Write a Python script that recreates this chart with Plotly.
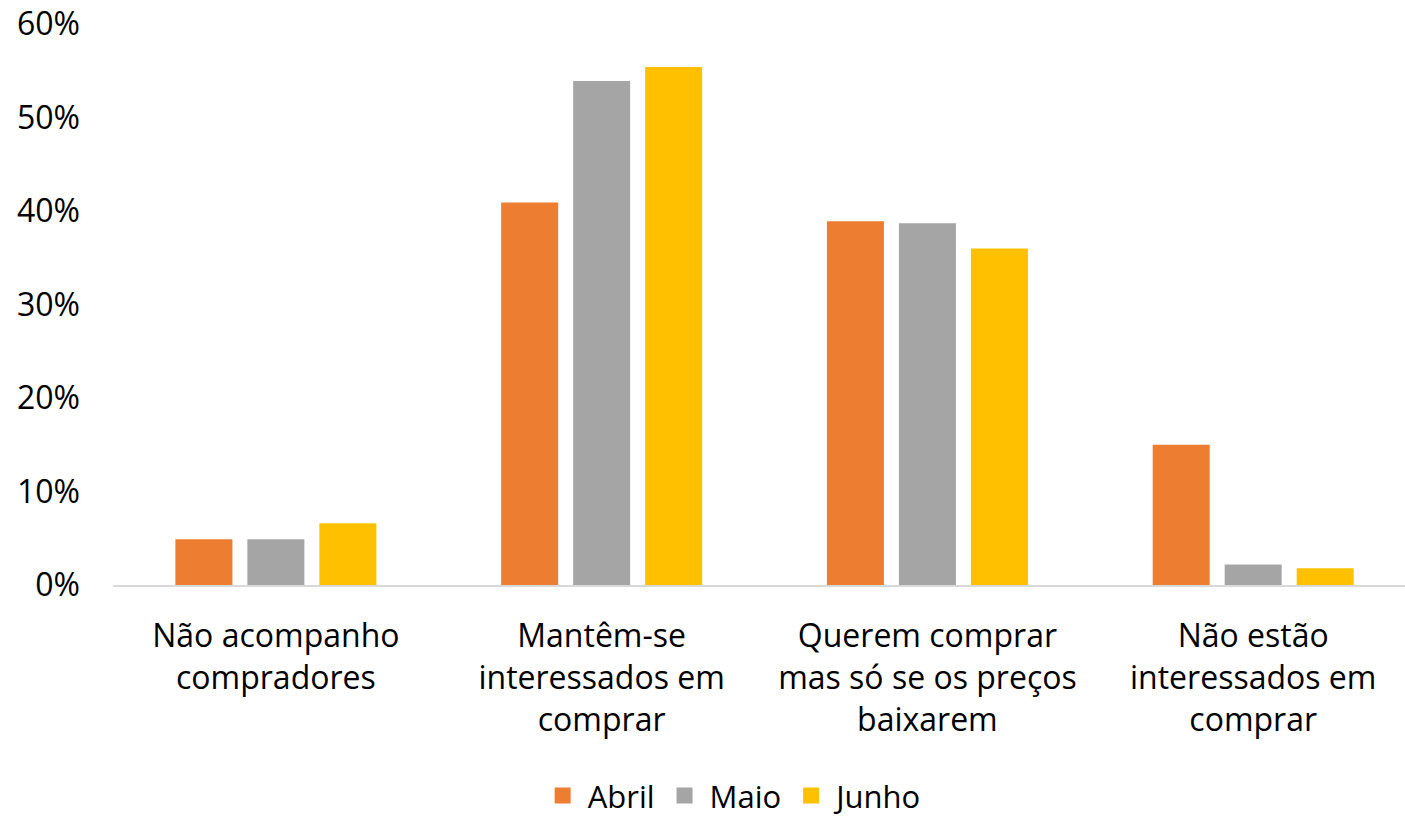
import plotly.graph_objects as go

categories = ["Não acompanho<br>compradores",
              "Mantêm-se<br>interessados em<br>comprar",
              "Querem comprar<br>mas só se os preços<br>baixarem",
              "Não estão<br>interessados em<br>comprar"]
abril = [4.9, 40.9, 38.9, 15.0]
maio = [4.9, 53.9, 38.7, 2.2]
junho = [6.6, 55.4, 36.0, 1.8]
series_names = ["Abril", "Maio", "Junho"]
colors = ["#ED7D31", "#A5A5A5", "#FFC000"]
yticks = [0, 10, 20, 30, 40, 50, 60]

font_family = "Open Sans, Noto Sans, sans-serif"

fig = go.Figure()
for name, vals, c in zip(series_names, [abril, maio, junho], colors):
    fig.add_trace(go.Bar(x=categories, y=vals, name=name, marker_color=c,
                         marker_line_width=0, showlegend=False))
# legend entries with larger square swatches
for name, c in zip(series_names, colors):
    fig.add_trace(go.Scatter(x=[None], y=[None], mode="markers", name=name,
                             marker=dict(symbol="square", size=21, color=c)))

fig.update_layout(
    width=1405, height=818,
    margin=dict(l=113, r=0, t=24, b=233, autoexpand=False),
    paper_bgcolor="white", plot_bgcolor="white",
    barmode="group", bargap=0.337, bargroupgap=0.208,
    font=dict(family=font_family, size=32, color="#000000"),
    legend=dict(orientation="h", x=0.48, xanchor="center", y=-0.376, yanchor="middle",
                font=dict(size=31), itemwidth=40, traceorder="normal"),
    showlegend=True,
)
fig.update_yaxes(range=[0, 60], tickvals=yticks, ticktext=[f"{v}%" for v in yticks],
                 showgrid=False, zeroline=False, showline=False, automargin=False,
                 ticklabelstandoff=32, tickfont=dict(size=32))
fig.update_xaxes(showline=True, linecolor="#D9D9D9", linewidth=2, showgrid=False,
                 automargin=False, range=[-0.5, 3.466],
                 ticks="", ticklabelstandoff=22, tickfont=dict(size=32))

fig.write_html("out.html", config={"displayModeBar": False},
               post_script="document.body.style.margin='0';document.body.style.overflow='hidden';")
